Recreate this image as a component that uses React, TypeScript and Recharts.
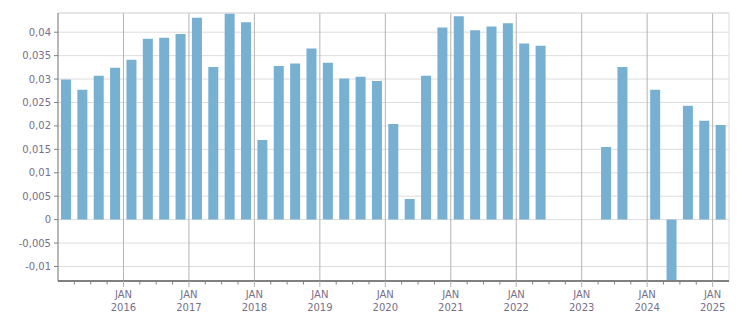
import { Bar, BarChart, CartesianGrid, ReferenceLine, XAxis, YAxis } from "recharts";

// quarterly values, 2015 Q1 .. 2025 Q1 (null = no value)
const values: (number | null)[] = [
    0.0299, 0.0277, 0.0307, 0.0324,
    0.0341, 0.0386, 0.0388, 0.0396,
    0.0431, 0.0326, 0.0440, 0.0421,
    0.0170, 0.0328, 0.0333, 0.0365,
    0.0335, 0.0301, 0.0305, 0.0296,
    0.0204, 0.0044, 0.0307, 0.0410,
    0.0434, 0.0404, 0.0412, 0.0419,
    0.0376, 0.0371, null, null,
    null, 0.0155, 0.0326, null,
    0.0277, -0.0131, 0.0243, 0.0211,
    0.0202,
];

const firstYear = 2015;
const yearLabels = ["2016", "2017", "2018", "2019", "2020", "2021", "2022", "2023", "2024", "2025"];
const yTicks = [-0.01, -0.005, 0, 0.005, 0.01, 0.015, 0.02, 0.025, 0.03, 0.035, 0.04];
const yDomain = [-0.0131, 0.0441];

const data = values.map((v, i) => ({
    x: i + 0.5,
    q: `${firstYear + Math.floor(i / 4)} Q${(i % 4) + 1}`,
    value: v,
}));

const quarterTicks = Array.from({ length: values.length - 1 }, (_, i) => i + 1);
const yearTicks = yearLabels.map((_, i) => (i + 1) * 4);

const labelColor = "#77708a";
const font = "'DejaVu Sans', Verdana, sans-serif";

function QuarterTick(props: any) {
    const { x, y, payload } = props;
    const major = payload.value % 4 === 0;
    if (!major) {
        return <line x1={x} x2={x} y1={y} y2={y + 3.5} stroke="#808080" />;
    }
    const label = yearLabels[payload.value / 4 - 1];
    return (
        <g>
            <line x1={x} x2={x} y1={y} y2={y + 6} stroke="#b0b0b0" />
            <text x={x} y={y + 17} textAnchor="middle" fontSize={10} fill={labelColor} fontFamily={font}>JAN</text>
            <text x={x} y={y + 30} textAnchor="middle" fontSize={10} fill={labelColor} fontFamily={font}>{label}</text>
        </g>
    );
}

export default function App() {
    return (
        <div style={{ position: "absolute", left: 0, top: 0, width: 751, height: 313, background: "#fff" }}>
            <BarChart width={751} height={313} data={data} margin={{ top: 13, right: 22, bottom: 0, left: 0 }}>
                <CartesianGrid vertical={false} stroke="#dddddd" />
                {yearTicks.map((t) => (
                    <ReferenceLine key={t} x={t} stroke="#b4b4b4" />
                ))}
                <ReferenceLine x={values.length} stroke="#dddddd" />
                <ReferenceLine y={yDomain[1]} stroke="#dddddd" />
                <XAxis
                    dataKey="x"
                    type="number"
                    domain={[0, values.length]}
                    ticks={quarterTicks}
                    interval={0}
                    height={32}
                    tickSize={0}
                    tickMargin={0}
                    tickLine={false}
                    axisLine={{ stroke: "#808080", strokeWidth: 2 }}
                    tick={<QuarterTick />}
                />
                <YAxis
                    type="number"
                    domain={yDomain}
                    ticks={yTicks}
                    allowDataOverflow
                    width={58}
                    tickSize={4}
                    tickMargin={3}
                    tickLine={{ stroke: "#808080" }}
                    axisLine={{ stroke: "#707070" }}
                    tick={{ fontSize: 10, fill: labelColor, fontFamily: font }}
                    tickFormatter={(v: number) => String(v).replace(".", ",")}
                />
                <Bar dataKey="value" fill="#78b0d2" barSize={10} isAnimationActive={false} />
            </BarChart>
        </div>
    );
}
